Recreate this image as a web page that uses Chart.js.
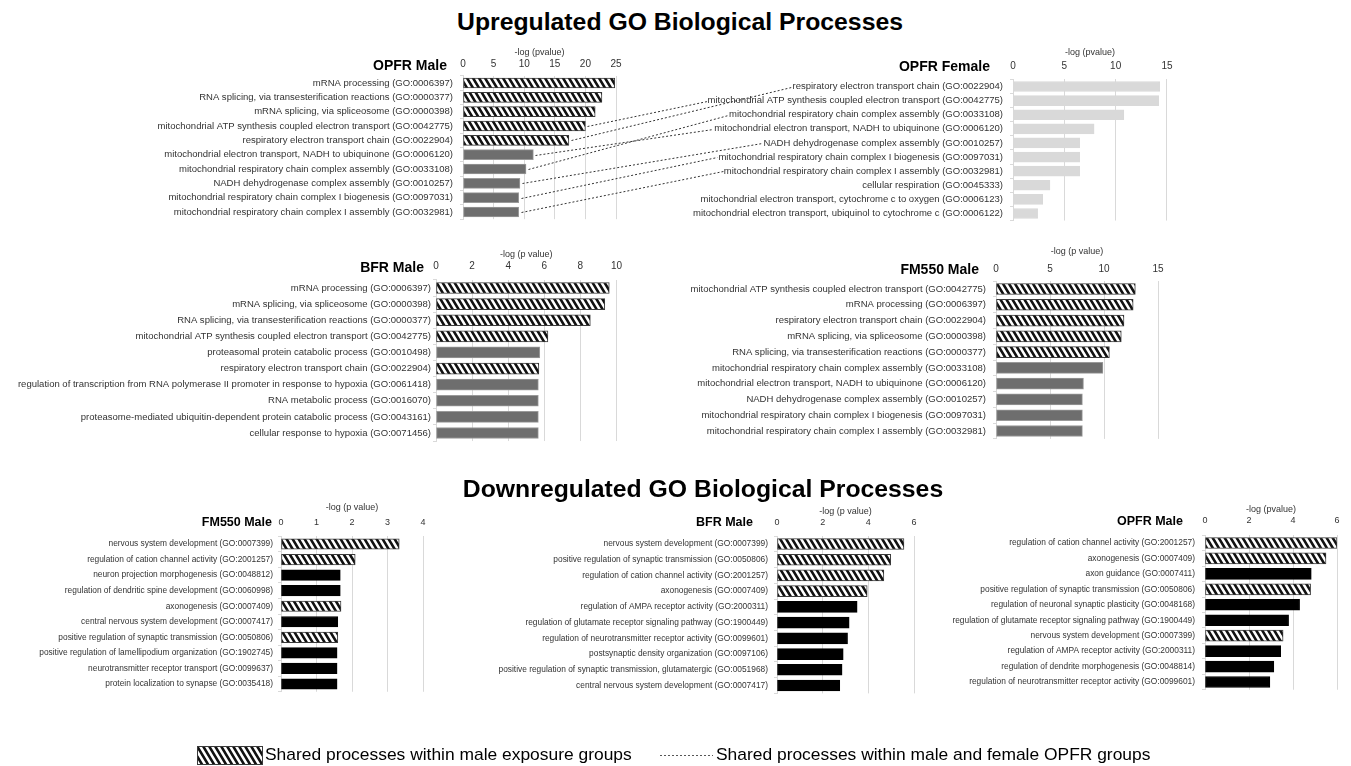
<!DOCTYPE html>
<html><head><meta charset="utf-8">
<script src="https://cdn.jsdelivr.net/npm/chart.js@4.4.1/dist/chart.umd.min.js"></script>
<style>
html,body{margin:0;padding:0;background:#fff;}
body{width:1351px;height:766px;position:relative;overflow:hidden;}
canvas{position:absolute;}
.t{position:absolute;white-space:nowrap;line-height:1;color:#000;}
</style></head><body>
<script>
// ================= DATA =================
const upOpfrMaleLabels = [
  "mRNA processing (GO:0006397)",
  "RNA splicing, via transesterification reactions (GO:0000377)",
  "mRNA splicing, via spliceosome (GO:0000398)",
  "mitochondrial ATP synthesis coupled electron transport (GO:0042775)",
  "respiratory electron transport chain (GO:0022904)",
  "mitochondrial electron transport, NADH to ubiquinone (GO:0006120)",
  "mitochondrial respiratory chain complex assembly (GO:0033108)",
  "NADH dehydrogenase complex assembly (GO:0010257)",
  "mitochondrial respiratory chain complex I biogenesis (GO:0097031)",
  "mitochondrial respiratory chain complex I assembly (GO:0032981)"
];
const upOpfrMaleValues = [24.8, 22.7, 21.6, 20.0, 17.3, 11.5, 10.3, 9.3, 9.1, 9.1];
const upOpfrMaleShared = [1, 1, 1, 1, 1, 0, 0, 0, 0, 0];

const upOpfrFemaleLabels = [
  "respiratory electron transport chain (GO:0022904)",
  "mitochondrial ATP synthesis coupled electron transport (GO:0042775)",
  "mitochondrial respiratory chain complex assembly (GO:0033108)",
  "mitochondrial electron transport, NADH to ubiquinone (GO:0006120)",
  "NADH dehydrogenase complex assembly (GO:0010257)",
  "mitochondrial respiratory chain complex I biogenesis (GO:0097031)",
  "mitochondrial respiratory chain complex I assembly (GO:0032981)",
  "cellular respiration (GO:0045333)",
  "mitochondrial electron transport, cytochrome c to oxygen (GO:0006123)",
  "mitochondrial electron transport, ubiquinol to cytochrome c (GO:0006122)"
];
const upOpfrFemaleValues = [14.3, 14.2, 10.8, 7.9, 6.5, 6.5, 6.5, 3.6, 2.9, 2.4];
const upOpfrFemaleShared = [0, 0, 0, 0, 0, 0, 0, 0, 0, 0];

const upBfrMaleLabels = [
  "mRNA processing (GO:0006397)",
  "mRNA splicing, via spliceosome (GO:0000398)",
  "RNA splicing, via transesterification reactions (GO:0000377)",
  "mitochondrial ATP synthesis coupled electron transport (GO:0042775)",
  "proteasomal protein catabolic process (GO:0010498)",
  "respiratory electron transport chain (GO:0022904)",
  "regulation of transcription from RNA polymerase II promoter in response to hypoxia (GO:0061418)",
  "RNA metabolic process (GO:0016070)",
  "proteasome-mediated ubiquitin-dependent protein catabolic process (GO:0043161)",
  "cellular response to hypoxia (GO:0071456)"
];
const upBfrMaleValues = [9.6, 9.35, 8.55, 6.2, 5.75, 5.7, 5.67, 5.67, 5.67, 5.67];
const upBfrMaleShared = [1, 1, 1, 1, 0, 1, 0, 0, 0, 0];

const upFm550MaleLabels = [
  "mitochondrial ATP synthesis coupled electron transport (GO:0042775)",
  "mRNA processing (GO:0006397)",
  "respiratory electron transport chain (GO:0022904)",
  "mRNA splicing, via spliceosome (GO:0000398)",
  "RNA splicing, via transesterification reactions (GO:0000377)",
  "mitochondrial respiratory chain complex assembly (GO:0033108)",
  "mitochondrial electron transport, NADH to ubiquinone (GO:0006120)",
  "NADH dehydrogenase complex assembly (GO:0010257)",
  "mitochondrial respiratory chain complex I biogenesis (GO:0097031)",
  "mitochondrial respiratory chain complex I assembly (GO:0032981)"
];
const upFm550MaleValues = [12.9, 12.7, 11.85, 11.6, 10.5, 9.9, 8.1, 8.0, 8.0, 8.0];
const upFm550MaleShared = [1, 1, 1, 1, 1, 0, 0, 0, 0, 0];

const downFm550MaleLabels = [
  "nervous system development (GO:0007399)",
  "regulation of cation channel activity (GO:2001257)",
  "neuron projection morphogenesis (GO:0048812)",
  "regulation of dendritic spine development (GO:0060998)",
  "axonogenesis (GO:0007409)",
  "central nervous system development (GO:0007417)",
  "positive regulation of synaptic transmission (GO:0050806)",
  "positive regulation of lamellipodium organization (GO:1902745)",
  "neurotransmitter receptor transport (GO:0099637)",
  "protein localization to synapse (GO:0035418)"
];
const downFm550MaleValues = [3.33, 2.09, 1.67, 1.67, 1.69, 1.6, 1.6, 1.58, 1.58, 1.58];
const downFm550MaleShared = [1, 1, 0, 0, 1, 0, 1, 0, 0, 0];

const downBfrMaleLabels = [
  "nervous system development (GO:0007399)",
  "positive regulation of synaptic transmission (GO:0050806)",
  "regulation of cation channel activity (GO:2001257)",
  "axonogenesis (GO:0007409)",
  "regulation of AMPA receptor activity (GO:2000311)",
  "regulation of glutamate receptor signaling pathway (GO:1900449)",
  "regulation of neurotransmitter receptor activity (GO:0099601)",
  "postsynaptic density organization (GO:0097106)",
  "positive regulation of synaptic transmission, glutamatergic (GO:0051968)",
  "central nervous system development (GO:0007417)"
];
const downBfrMaleValues = [5.56, 4.98, 4.68, 3.95, 3.51, 3.16, 3.09, 2.9, 2.85, 2.75];
const downBfrMaleShared = [1, 1, 1, 1, 0, 0, 0, 0, 0, 0];

const downOpfrMaleLabels = [
  "regulation of cation channel activity (GO:2001257)",
  "axonogenesis (GO:0007409)",
  "axon guidance (GO:0007411)",
  "positive regulation of synaptic transmission (GO:0050806)",
  "regulation of neuronal synaptic plasticity (GO:0048168)",
  "regulation of glutamate receptor signaling pathway (GO:1900449)",
  "nervous system development (GO:0007399)",
  "regulation of AMPA receptor activity (GO:2000311)",
  "regulation of dendrite morphogenesis (GO:0048814)",
  "regulation of neurotransmitter receptor activity (GO:0099601)"
];
const downOpfrMaleValues = [6.0, 5.5, 4.83, 4.8, 4.3, 3.8, 3.55, 3.44, 3.13, 2.95];
const downOpfrMaleShared = [1, 1, 0, 1, 0, 0, 1, 0, 0, 0];

const mainTitles = ["Upregulated GO Biological Processes", "Downregulated GO Biological Processes"];
const legendTexts = ["Shared processes within male exposure groups", "Shared processes within male and female OPFR groups"];

// ================= STYLE / LAYOUT =================
const FAM_N = "'Liberation Sans Narrow','Liberation Sans',Arial,sans-serif";
const FAM_R = "'Liberation Sans',Arial,sans-serif";
const mctx = document.createElement('canvas').getContext('2d');
function textW(t, weight, size, fam) { mctx.font = weight + ' ' + size + 'px ' + fam; return mctx.measureText(t).width; }
function fit(t, weight, fam, target) { return 100 * target / textW(t, weight, 100, fam); }

const labelUpSize = fit("mitochondrial ATP synthesis coupled electron transport (GO:0042775)", 'normal', FAM_N, 296);
const labelDownSize = fit("regulation of glutamate receptor signaling pathway (GO:1900449)", 'normal', FAM_N, 243);
const axisTitleSize = fit("-log (pvalue)", 'normal', FAM_N, 50);
const panelTitleUp = fit("OPFR Male", 'bold', FAM_N, 74);
const panelTitleDown = fit("OPFR Male", 'bold', FAM_N, 66);
const mainSize = fit(mainTitles[0], 'bold', FAM_R, 446);
const legendSize = fit(legendTexts[0], 'normal', FAM_R, 367);

function makeHatch(ctx) {
  const c = document.createElement('canvas'); c.width = 6; c.height = 10;
  const g = c.getContext('2d');
  g.fillStyle = '#fff'; g.fillRect(0, 0, 6, 10);
  g.strokeStyle = '#111'; g.lineWidth = 2.6;
  g.beginPath();
  for (const dx of [-6, 0, 6]) { g.moveTo(dx - 1.2, -2); g.lineTo(dx + 7.2, 12); }
  g.stroke();
  return ctx.createPattern(c, 'repeat');
}

const panels = [
  { key: 'upOpfrM', labels: upOpfrMaleLabels, values: upOpfrMaleValues, shared: upOpfrMaleShared, title: 'OPFR Male', axisTitle: '-log (pvalue)',
    max: 25, step: 5, solid: '#6e6e6e', solidBorder: '#9a9a9a', canvasLeft: 140, plotLeft: 463, plotRight: 616,
    rowFirst: 83, rowLast: 212, tickY: 64, axisTitleY: 53, titleRight: 447, titleY: 65, labelEnd: 453, bar: 10, lab: labelUpSize, tick: 10, ptitle: panelTitleUp },
  { key: 'upOpfrF', labels: upOpfrFemaleLabels, values: upOpfrFemaleValues, shared: upOpfrFemaleShared, title: 'OPFR Female', axisTitle: '-log (pvalue)',
    max: 15, step: 5, solid: '#d9d9d9', solidBorder: '#d9d9d9', canvasLeft: 660, plotLeft: 1013, plotRight: 1168,
    rowFirst: 86.5, rowLast: 213.5, tickY: 66, axisTitleY: 53, titleRight: 990, titleY: 66, labelEnd: 1003, bar: 10, lab: labelUpSize, tick: 10, ptitle: panelTitleUp },
  { key: 'upBfrM', labels: upBfrMaleLabels, values: upBfrMaleValues, shared: upBfrMaleShared, title: 'BFR Male', axisTitle: '-log (p value)',
    max: 10, step: 2, solid: '#6e6e6e', solidBorder: '#9a9a9a', canvasLeft: 0, plotLeft: 436, plotRight: 618,
    rowFirst: 288, rowLast: 433, tickY: 266, axisTitleY: 255, titleRight: 424, titleY: 267, labelEnd: 431, bar: 11, lab: labelUpSize, tick: 10, ptitle: panelTitleUp },
  { key: 'upFmM', labels: upFm550MaleLabels, values: upFm550MaleValues, shared: upFm550MaleShared, title: 'FM550 Male', axisTitle: '-log (p value)',
    max: 15, step: 5, solid: '#6e6e6e', solidBorder: '#9a9a9a', canvasLeft: 660, plotLeft: 996, plotRight: 1158,
    rowFirst: 289, rowLast: 431, tickY: 269, axisTitleY: 252, titleRight: 979, titleY: 269, labelEnd: 986, bar: 11, lab: labelUpSize, tick: 10, ptitle: panelTitleUp },
  { key: 'dnFmM', labels: downFm550MaleLabels, values: downFm550MaleValues, shared: downFm550MaleShared, title: 'FM550 Male', axisTitle: '-log (p value)',
    max: 4, step: 1, solid: '#000', solidBorder: '#000', canvasLeft: 10, plotLeft: 281, plotRight: 423,
    rowFirst: 544, rowLast: 684, tickY: 523, axisTitleY: 508, titleRight: 272, titleY: 522, labelEnd: 273, bar: 10.5, lab: labelDownSize, tick: 9, ptitle: panelTitleDown },
  { key: 'dnBfrM', labels: downBfrMaleLabels, values: downBfrMaleValues, shared: downBfrMaleShared, title: 'BFR Male', axisTitle: '-log (p value)',
    max: 6, step: 2, solid: '#000', solidBorder: '#000', canvasLeft: 470, plotLeft: 777, plotRight: 914,
    rowFirst: 543.5, rowLast: 685, tickY: 522.5, axisTitleY: 511.5, titleRight: 753, titleY: 522, labelEnd: 768, bar: 11, lab: labelDownSize, tick: 9, ptitle: panelTitleDown },
  { key: 'dnOpfrM', labels: downOpfrMaleLabels, values: downOpfrMaleValues, shared: downOpfrMaleShared, title: 'OPFR Male', axisTitle: '-log (pvalue)',
    max: 6, step: 2, solid: '#000', solidBorder: '#000', canvasLeft: 920, plotLeft: 1205, plotRight: 1337,
    rowFirst: 543, rowLast: 682, tickY: 521, axisTitleY: 510, titleRight: 1183, titleY: 521, labelEnd: 1195, bar: 11, lab: labelDownSize, tick: 9, ptitle: panelTitleDown }
];

const PAD_R = 12, PAD_B = 22, Y_TICK = 3;
const charts = {};

function addText(txt, x, y, size, weight, fam, anchor) {
  const d = document.createElement('div');
  d.className = 't';
  d.textContent = txt;
  d.style.left = x + 'px'; d.style.top = y + 'px';
  d.style.fontSize = size + 'px'; d.style.fontWeight = weight; d.style.fontFamily = fam;
  d.style.transform = anchor === 'right' ? 'translate(-100%,-50%)' : anchor === 'center' ? 'translate(-50%,-50%)' : 'translate(0,-50%)';
  document.body.appendChild(d);
}

panels.forEach(p => {
  const n = p.labels.length;
  const s = (p.rowLast - p.rowFirst) / (n - 1);
  const rowTop = p.rowFirst - s / 2, rowBottom = p.rowLast + s / 2;
  const top = p.axisTitleY - 10;
  p.canvasTop = top;
  const w = Math.round(p.plotRight + PAD_R - p.canvasLeft);
  const h = Math.round(rowBottom + PAD_B - top);
  const padB = h - (rowBottom - top);
  const cv = document.createElement('canvas');
  cv.width = w; cv.height = h;
  cv.style.left = p.canvasLeft + 'px'; cv.style.top = top + 'px';
  cv.style.width = w + 'px'; cv.style.height = h + 'px';
  document.body.appendChild(cv);
  const ctx = cv.getContext('2d');
  const hatch = makeHatch(ctx);
  const lineH = p.tick * 1.2;
  p.labelPad = p.plotLeft - p.labelEnd - Y_TICK;
  charts[p.key] = new Chart(cv, {
    type: 'bar',
    data: {
      labels: p.labels,
      datasets: [{
        data: p.values,
        backgroundColor: p.shared.map(v => v ? hatch : p.solid),
        borderColor: p.shared.map(v => v ? '#3a3a3a' : p.solidBorder),
        borderWidth: 1,
        borderSkipped: false,
        barThickness: p.bar
      }]
    },
    options: {
      indexAxis: 'y', responsive: false, maintainAspectRatio: false, animation: false, devicePixelRatio: 1,
      layout: { padding: { left: 0, top: 0, right: PAD_R, bottom: padB } },
      plugins: { legend: { display: false }, tooltip: { enabled: false } },
      scales: {
        x: {
          position: 'top', min: 0, max: p.max,
          ticks: { stepSize: p.step, color: '#333', font: { family: FAM_R, size: p.tick }, padding: rowTop - p.tickY - lineH / 2, maxRotation: 0 },
          grid: { color: '#d9d9d9', drawTicks: false, lineWidth: 1 },
          border: { display: false },
          title: { display: true, text: p.axisTitle, color: '#333', font: { family: FAM_N, size: axisTitleSize },
                   padding: { top: 10 - axisTitleSize * 0.6, bottom: 0 } },
          afterFit(sc) { sc.height = rowTop - top; }
        },
        y: {
          ticks: { color: '#333', font: { family: FAM_N, size: p.lab }, padding: p.labelPad, autoSkip: false },
          grid: { display: true, drawOnChartArea: false, drawTicks: true, tickLength: Y_TICK, color: '#d9d9d9' },
          border: { display: true, color: '#d9d9d9' },
          afterFit(sc) { sc.width = p.plotLeft - p.canvasLeft; }
        }
      }
    }
  });
  addText(p.title, p.titleRight, p.titleY, p.ptitle, 'bold', FAM_N, 'right');
});

// main titles
addText(mainTitles[0], 680, 22, mainSize, 'bold', FAM_R, 'center');
addText(mainTitles[1], 703, 489, mainSize, 'bold', FAM_R, 'center');

// connectors between shared OPFR male / female processes
(function () {
  const ov = document.createElement('canvas');
  ov.width = 1351; ov.height = 766;
  ov.style.left = '0px'; ov.style.top = '0px'; ov.style.pointerEvents = 'none';
  document.body.appendChild(ov);
  const g = ov.getContext('2d');
  const pM = panels[0], pF = panels[1];
  const cM = charts[pM.key], cF = charts[pF.key];
  g.setLineDash([2, 2]); g.strokeStyle = '#333'; g.lineWidth = 1;
  pM.labels.forEach((lab, i) => {
    const j = pF.labels.indexOf(lab);
    if (j < 0) return;
    const x1 = pM.canvasLeft + cM.scales.x.getPixelForValue(pM.values[i]) + 2;
    const y1 = pM.canvasTop + cM.scales.y.getPixelForValue(i);
    const lw = textW(lab, 'normal', pF.lab, FAM_N);
    const x2 = pF.canvasLeft + cF.chartArea.left - Y_TICK - pF.labelPad - lw - 1;
    const y2 = pF.canvasTop + cF.scales.y.getPixelForValue(j);
    g.beginPath(); g.moveTo(Math.round(x1) + 0.5, Math.round(y1) + 0.5); g.lineTo(Math.round(x2) + 0.5, Math.round(y2) + 0.5); g.stroke();
  });

  // legend
  const sw = document.createElement('canvas');
  sw.width = 66; sw.height = 19;
  sw.style.left = '197px'; sw.style.top = '746px';
  document.body.appendChild(sw);
  const sg = sw.getContext('2d');
  sg.fillStyle = makeHatch(sg); sg.fillRect(0, 0, 66, 19);
  sg.strokeStyle = '#3a3a3a'; sg.lineWidth = 1; sg.setLineDash([]); sg.strokeRect(0.5, 0.5, 65, 18);
  addText(legendTexts[0], 265, 755, legendSize, 'normal', FAM_R, 'left');
  g.setLineDash([2, 2]); g.strokeStyle = '#555';
  g.beginPath(); g.moveTo(660, 755.5); g.lineTo(713, 755.5); g.stroke();
  addText(legendTexts[1], 716, 755, legendSize, 'normal', FAM_R, 'left');
})();
</script>
</body></html>
